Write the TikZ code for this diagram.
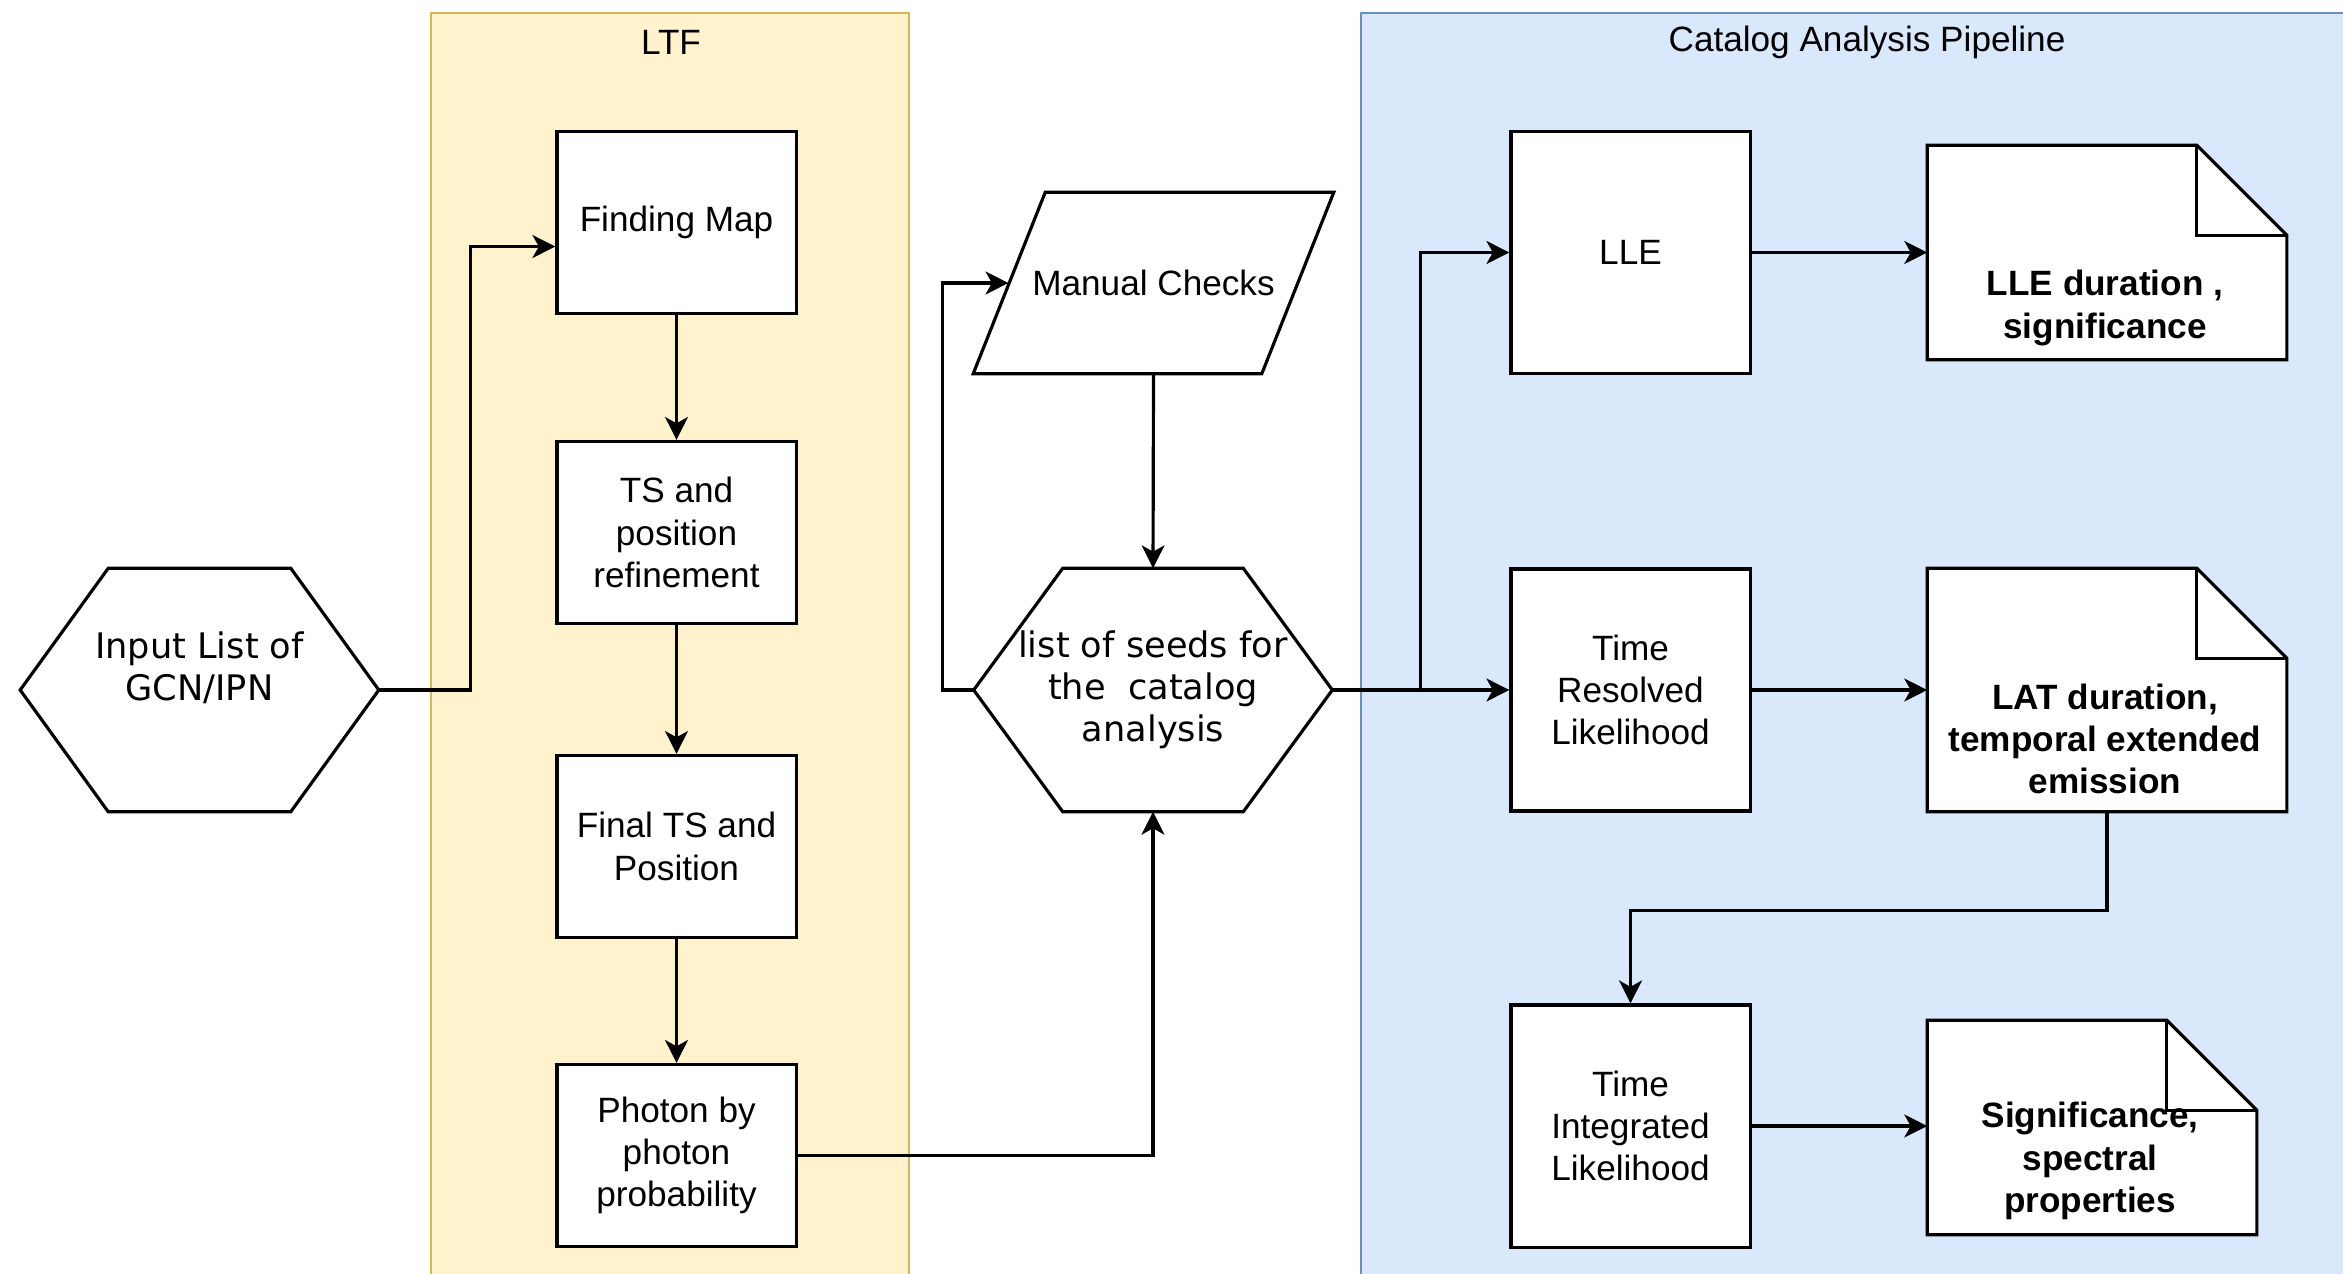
\documentclass[tikz,border=0pt]{standalone}
\usepackage{fontspec}
\setmainfont{Liberation Sans}
\newfontfamily\hexfont{DejaVu Sans}
\usetikzlibrary{arrows.meta}

\definecolor{ltffill}{HTML}{FFF2CC}
\definecolor{ltfline}{HTML}{D6B656}
\definecolor{capfill}{HTML}{DAE8FC}
\definecolor{capline}{HTML}{6C8EBF}

\tikzset{
  block/.style={draw, fill=white, line width=0.9pt, minimum width=2.39cm, minimum height=1.82cm, align=center, inner sep=0pt},
  tall/.style={block, minimum height=2.42cm},
  hexa/.style={minimum width=3.57cm, minimum height=2.42cm, inner sep=0pt, align=center, font=\hexfont},
  docbox/.style={fill=white, minimum width=3.58cm, minimum height=2.13cm, inner sep=0pt},
  doctext/.style={align=center, font=\bfseries},
  shapeline/.style={line width=0.9pt, line join=miter},
  arr/.style={-{Stealth[length=6.5pt,width=6.5pt,inset=1.8pt]}, line width=0.9pt}
}

\begin{document}
\begin{tikzpicture}[x=0.01cm, y=-0.01cm]
\useasboundingbox (0,0) rectangle (2343,1273);
\clip (0,0) rectangle (2343,1273);
% lanes
\draw[fill=ltffill, draw=ltfline, line width=0.6pt] (431,13) rectangle (909,1290);
\draw[fill=capfill, draw=capline, line width=0.6pt] (1361,13) rectangle (2360,1290);
\node (ltftitle) at (671,42) {LTF};
\node (captitle) at (1867,42) {Catalog Analysis Pipeline};

% LTF steps
\node[block] (fm) at (676.5,222.5) {Finding Map};
\node[block] (ts) at (676.5,532.5) {TS and\\position\\refinement};
\node[block] (fin) at (676.5,846.5) {Final TS and\\Position};
\node[block] (pho) at (676.5,1155.5) {Photon by\\photon\\probability};

% input list
\node[hexa] (inp) at (199.5,690) {};
\node[font=\hexfont, align=center] (inptext) at (199.5,668) {Input List of\\GCN/IPN};
\draw[shapeline] (inp.west) -- ([xshift=0.88cm]inp.north west) -- ([xshift=-0.88cm]inp.north east) -- (inp.east) -- ([xshift=-0.88cm]inp.south east) -- ([xshift=0.88cm]inp.south west) -- cycle;

% seeds and manual checks
\node[hexa] (seeds) at (1153,690) {list of seeds for\\the\ \ catalog\\analysis};
\draw[shapeline] (seeds.west) -- ([xshift=0.89cm]seeds.north west) -- ([xshift=-0.89cm]seeds.north east) -- (seeds.east) -- ([xshift=-0.89cm]seeds.south east) -- ([xshift=0.89cm]seeds.south west) -- cycle;
\node[minimum width=3.59cm, minimum height=1.80cm, inner sep=0pt] (man) at (1153.5,283) {Manual Checks};
\draw[shapeline] (man.south west) -- ([xshift=0.72cm]man.north west) -- (man.north east) -- ([xshift=-0.72cm]man.south east) -- cycle;

% pipeline
\node[tall] (lle) at (1630.5,252.5) {LLE};
\node[tall] (trl) at (1630.5,690) {Time\\Resolved\\Likelihood};
\node[tall] (til) at (1630.5,1126) {Time\\Integrated\\Likelihood};

% outputs
\node[docbox] (lledoc) at (2107,252.5) {};
\node[docbox, minimum height=2.42cm] (latdoc) at (2107,690) {};
\node[docbox, minimum width=3.28cm] (sigdoc) at (2092,1127.5) {};
\foreach \n in {lledoc,latdoc,sigdoc}{
  \fill[capfill] ([xshift=-0.9cm]\n.north east) -- (\n.north east) -- ([yshift=-0.9cm]\n.north east) -- cycle;
  \draw[shapeline] (\n.south west) -- (\n.north west) -- ([xshift=-0.9cm]\n.north east) -- ([yshift=-0.9cm]\n.north east) -- (\n.south east) -- cycle;
  \draw[shapeline] ([xshift=-0.9cm]\n.north east) |- ([yshift=-0.9cm]\n.north east);
}
\node[doctext] (lletext) at (2105,308) {LLE duration ,\\significance};
\node[doctext] (lattext) at (2105,739) {LAT duration,\\temporal extended\\emission};
\node[doctext] (sigtext) at (2090,1161) {Significance,\\spectral\\properties};

% connections
\draw[arr] (inp.east) -- ++(92,0) |- ([yshift=-0.24cm]fm.west);
\draw[arr] (fm) -- (ts);
\draw[arr] (ts) -- (fin);
\draw[arr] (fin) -- (pho);
\draw[arr] (pho.east) -| (seeds.south);
\draw[arr] (man.south) -- (seeds.north);
\draw[arr] (seeds.west) -- ++(-31,0) |- ([xshift=-1.45cm]man.center);
\draw[arr] (seeds.east) -- (trl.west);
\draw[arr] (seeds.east) -- ++(88,0) |- (lle.west);
\draw[arr] (lle) -- (lledoc);
\draw[arr] (trl) -- (latdoc);
\draw[arr] (latdoc.south) -- ++(0,99) -| (til.north);
\draw[arr] (til.east) -- (til.east -| sigdoc.west);
\end{tikzpicture}
\end{document}
